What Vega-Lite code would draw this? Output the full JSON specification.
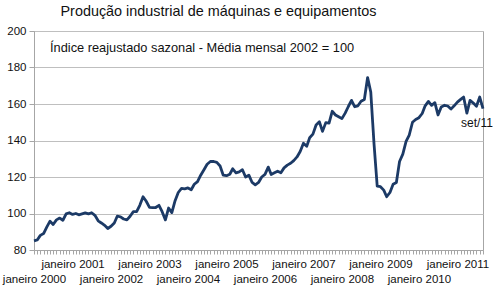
{
  "$schema": "https://vega.github.io/schema/vega-lite/v6.json",
  "width": 449,
  "height": 219,
  "autosize": {"type": "none"},
  "padding": {"left": 34, "top": 31, "right": 16, "bottom": 48},
  "background": "white",
  "config": {
    "font": "Liberation Sans",
    "view": {"stroke": "#a6a6a6", "strokeWidth": 1}
  },
  "title": {
    "text": "Produção industrial de máquinas e equipamentos",
    "font": "Liberation Sans",
    "fontSize": 14.4,
    "fontWeight": "normal",
    "color": "#111111",
    "anchor": "middle",
    "dx": -40,
    "offset": -5,
    "baseline": "alphabetic"
  },
  "datasets": {
    "serie": [
      {"m": "2000-01", "v": 85}, {"m": "2000-02", "v": 85.5}, {"m": "2000-03", "v": 88}, {"m": "2000-04", "v": 89},
      {"m": "2000-05", "v": 92.5}, {"m": "2000-06", "v": 95.8}, {"m": "2000-07", "v": 94}, {"m": "2000-08", "v": 96.5},
      {"m": "2000-09", "v": 97.5}, {"m": "2000-10", "v": 96.3}, {"m": "2000-11", "v": 99.8}, {"m": "2000-12", "v": 100.4},
      {"m": "2001-01", "v": 99.5}, {"m": "2001-02", "v": 100}, {"m": "2001-03", "v": 99.3}, {"m": "2001-04", "v": 99.8},
      {"m": "2001-05", "v": 100.3}, {"m": "2001-06", "v": 99.8}, {"m": "2001-07", "v": 100.4}, {"m": "2001-08", "v": 99},
      {"m": "2001-09", "v": 96}, {"m": "2001-10", "v": 94.8}, {"m": "2001-11", "v": 93.5}, {"m": "2001-12", "v": 91.8},
      {"m": "2002-01", "v": 93}, {"m": "2002-02", "v": 94.8}, {"m": "2002-03", "v": 98.5}, {"m": "2002-04", "v": 98.2},
      {"m": "2002-05", "v": 97}, {"m": "2002-06", "v": 96.5}, {"m": "2002-07", "v": 98.5}, {"m": "2002-08", "v": 101},
      {"m": "2002-09", "v": 101}, {"m": "2002-10", "v": 104.5}, {"m": "2002-11", "v": 109.2}, {"m": "2002-12", "v": 106.7},
      {"m": "2003-01", "v": 103.4}, {"m": "2003-02", "v": 103.2}, {"m": "2003-03", "v": 103.3}, {"m": "2003-04", "v": 104.5},
      {"m": "2003-05", "v": 101}, {"m": "2003-06", "v": 96.5}, {"m": "2003-07", "v": 103}, {"m": "2003-08", "v": 100.5},
      {"m": "2003-09", "v": 107}, {"m": "2003-10", "v": 111.5}, {"m": "2003-11", "v": 113.8}, {"m": "2003-12", "v": 113.5},
      {"m": "2004-01", "v": 114}, {"m": "2004-02", "v": 113}, {"m": "2004-03", "v": 116}, {"m": "2004-04", "v": 117.5},
      {"m": "2004-05", "v": 121}, {"m": "2004-06", "v": 124}, {"m": "2004-07", "v": 127}, {"m": "2004-08", "v": 128.5},
      {"m": "2004-09", "v": 128.5}, {"m": "2004-10", "v": 128}, {"m": "2004-11", "v": 126}, {"m": "2004-12", "v": 121},
      {"m": "2005-01", "v": 120.7}, {"m": "2005-02", "v": 121.5}, {"m": "2005-03", "v": 124.5}, {"m": "2005-04", "v": 122.3},
      {"m": "2005-05", "v": 122.8}, {"m": "2005-06", "v": 124}, {"m": "2005-07", "v": 120}, {"m": "2005-08", "v": 121},
      {"m": "2005-09", "v": 117}, {"m": "2005-10", "v": 115.7}, {"m": "2005-11", "v": 117}, {"m": "2005-12", "v": 120},
      {"m": "2006-01", "v": 121.4}, {"m": "2006-02", "v": 125.4}, {"m": "2006-03", "v": 121.4}, {"m": "2006-04", "v": 122.3},
      {"m": "2006-05", "v": 123.2}, {"m": "2006-06", "v": 122.3}, {"m": "2006-07", "v": 125}, {"m": "2006-08", "v": 126.5},
      {"m": "2006-09", "v": 127.5}, {"m": "2006-10", "v": 129}, {"m": "2006-11", "v": 131}, {"m": "2006-12", "v": 134},
      {"m": "2007-01", "v": 138.5}, {"m": "2007-02", "v": 136.8}, {"m": "2007-03", "v": 141.5}, {"m": "2007-04", "v": 143.5},
      {"m": "2007-05", "v": 148.5}, {"m": "2007-06", "v": 150.3}, {"m": "2007-07", "v": 145}, {"m": "2007-08", "v": 149.8},
      {"m": "2007-09", "v": 149.5}, {"m": "2007-10", "v": 156}, {"m": "2007-11", "v": 154}, {"m": "2007-12", "v": 153},
      {"m": "2008-01", "v": 152}, {"m": "2008-02", "v": 155}, {"m": "2008-03", "v": 158.5}, {"m": "2008-04", "v": 162},
      {"m": "2008-05", "v": 158.5}, {"m": "2008-06", "v": 159}, {"m": "2008-07", "v": 161.5}, {"m": "2008-08", "v": 162.5},
      {"m": "2008-09", "v": 174.5}, {"m": "2008-10", "v": 166.5}, {"m": "2008-11", "v": 138}, {"m": "2008-12", "v": 115},
      {"m": "2009-01", "v": 114.7}, {"m": "2009-02", "v": 112.8}, {"m": "2009-03", "v": 109.2}, {"m": "2009-04", "v": 111.5},
      {"m": "2009-05", "v": 116}, {"m": "2009-06", "v": 117}, {"m": "2009-07", "v": 128.5}, {"m": "2009-08", "v": 132.5},
      {"m": "2009-09", "v": 139.5}, {"m": "2009-10", "v": 143}, {"m": "2009-11", "v": 150}, {"m": "2009-12", "v": 151.5},
      {"m": "2010-01", "v": 152.5}, {"m": "2010-02", "v": 154.8}, {"m": "2010-03", "v": 159}, {"m": "2010-04", "v": 161.4},
      {"m": "2010-05", "v": 159.3}, {"m": "2010-06", "v": 160.7}, {"m": "2010-07", "v": 154}, {"m": "2010-08", "v": 158.4},
      {"m": "2010-09", "v": 159.3}, {"m": "2010-10", "v": 158.9}, {"m": "2010-11", "v": 157.2}, {"m": "2010-12", "v": 159},
      {"m": "2011-01", "v": 161}, {"m": "2011-02", "v": 162.5}, {"m": "2011-03", "v": 163.8}, {"m": "2011-04", "v": 155},
      {"m": "2011-05", "v": 162}, {"m": "2011-06", "v": 160.5}, {"m": "2011-07", "v": 158.8}, {"m": "2011-08", "v": 163.8},
      {"m": "2011-09", "v": 157.5}
    ],
    "notas": [
      {"m": "2000-06", "v": 190.5, "t": "Índice reajustado sazonal - Média mensal 2002 = 100"}
    ],
    "ultimo": [
      {"m": "2011-09", "v": 157.5, "t": "set/11"}
    ]
  },
  "encoding": {
    "x": {
      "field": "m",
      "type": "temporal",
      "scale": {"type": "utc", "nice": false},
      "axis": {
        "title": null,
        "tickCount": {"interval": "month", "step": 1},
        "labelExpr": "utcmonth(datum.value) != 0 ? '' : (utcyear(datum.value) % 2 == 0 ? ['', 'janeiro ' + utcyear(datum.value)] : 'janeiro ' + utcyear(datum.value))",
        "labelOverlap": false,
        "labelFlush": false,
        "labelBound": false,
        "grid": false,
        "tickSize": 4,
        "tickColor": "#a6a6a6",
        "domainColor": "#a6a6a6",
        "labelFont": "Liberation Sans",
        "labelFontSize": 11.5,
        "labelLineHeight": 15,
        "labelColor": "#111111",
        "labelPadding": 4,
        "labelBaseline": "top"
      }
    },
    "y": {
      "field": "v",
      "type": "quantitative",
      "scale": {"domain": [80, 200], "nice": false, "zero": false},
      "axis": {
        "title": null,
        "values": [80, 100, 120, 140, 160, 180, 200],
        "labelOverlap": false,
        "grid": true,
        "gridColor": "#bfbfbf",
        "domainColor": "#a6a6a6",
        "tickColor": "#a6a6a6",
        "tickSize": 5,
        "labelPadding": 3,
        "labelFont": "Liberation Sans",
        "labelFontSize": 11.5,
        "labelColor": "#111111"
      }
    }
  },
  "layer": [
    {
      "data": {"name": "serie"},
      "mark": {"type": "line", "color": "#1c3a66", "strokeWidth": 2.8, "strokeJoin": "round"}
    },
    {
      "data": {"name": "notas"},
      "mark": {"type": "text", "align": "left", "baseline": "middle", "font": "Liberation Sans", "fontSize": 12.8, "color": "#111111"},
      "encoding": {"text": {"field": "t"}}
    },
    {
      "data": {"name": "ultimo"},
      "mark": {"type": "text", "align": "center", "baseline": "middle", "dx": -6, "dy": 14, "font": "Liberation Sans", "fontSize": 12, "color": "#111111"},
      "encoding": {"text": {"field": "t"}}
    }
  ]
}
